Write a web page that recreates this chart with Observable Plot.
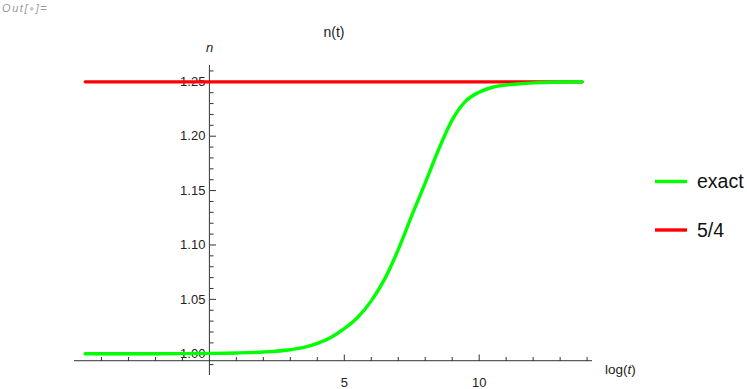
<!DOCTYPE html>
<html>
<head>
<meta charset="utf-8">
<script src="https://cdn.jsdelivr.net/npm/d3@7"></script>
<script src="https://cdn.jsdelivr.net/npm/@observablehq/plot@0.6"></script>
<style>
  html, body { margin: 0; padding: 0; background: #fff; }
  #wrap { position: relative; width: 747px; height: 389px; overflow: hidden; font-family: "Liberation Sans", Arial, sans-serif; }
  #chart { position: absolute; left: 0; top: 0; }
  #overlay { position: absolute; left: 0; top: 0; pointer-events: none; }
</style>
</head>
<body>
<div id="wrap">
  <div id="chart"></div>
  <svg id="overlay" width="747" height="389" font-family="Liberation Sans, Arial, sans-serif">
    <text x="2" y="12" font-size="11" font-style="italic" fill="#9a9a9a" letter-spacing="1.6">Out[<tspan fill="#c8c8c8" font-size="8" dy="-1">●</tspan><tspan dy="1">]=</tspan></text>
    <text x="334" y="37" font-size="14" text-anchor="middle" fill="#222">n(t)</text>
    <text x="209.5" y="52" font-size="13" font-style="italic" text-anchor="middle" fill="#222">n</text>
    <text x="605" y="374" font-size="13.5" fill="#222">log(<tspan font-style="italic">t</tspan>)</text>
    <g id="legend"></g>
  </svg>
</div>
<script>
// ---- data ----
const logT = [-4.605, -3, -2, -1, 0, 1, 2, 3, 3.5, 4, 4.5, 5, 5.5, 6, 6.5, 7, 7.5, 8, 8.5, 9, 9.5, 10, 10.5, 11, 11.5, 12, 13, 13.816];
const nExact = [1.0000, 1.0000, 1.0000, 1.0001, 1.0003, 1.0007, 1.0016, 1.0037, 1.0058, 1.0095, 1.0150, 1.0230, 1.0335, 1.0486, 1.0688, 1.0958, 1.1270, 1.1570, 1.1880, 1.2150, 1.2323, 1.2405, 1.2450, 1.2471, 1.2482, 1.2490, 1.2498, 1.2500];
const limitX = [-4.605, 13.816];
const limitN = 1.25;
const seriesNames = ["exact", "5/4"];
const seriesColors = ["#00ff00", "#ff0000"];

const xMajorTicks = [5, 10];
const xMinorTicks = [-4, -3, -2, -1, 1, 2, 3, 4, 6, 7, 8, 9, 11, 12, 13, 14];
const yMajorTicks = [1.00, 1.05, 1.10, 1.15, 1.20, 1.25];
const yMinorTicks = [0.99, 1.01, 1.02, 1.03, 1.04, 1.06, 1.07, 1.08, 1.09, 1.11, 1.12, 1.13, 1.14, 1.16, 1.17, 1.18, 1.19, 1.21, 1.22, 1.23, 1.24, 1.26];
const yTickLabels = ["1.00", "1.05", "1.10", "1.15", "1.20", "1.25"];
const xTickLabels = ["5", "10"];

const xDomain = [-5, 14.2];
const yDomain = [0.98, 1.265];
const axisOriginY = 0.9936;

const exactData = logT.map((x, i) => ({x, n: nExact[i]}));
const limitData = limitX.map(x => ({x, n: limitN}));

const axisColor = "#333";
const W = 747, H = 389, mL = 74, mR = 155, mT = 65, mB = 14;

const chart = Plot.plot({
  width: W, height: H,
  marginLeft: mL, marginRight: mR, marginTop: mT, marginBottom: mB,
  x: {domain: xDomain},
  y: {domain: yDomain},
  style: {background: "transparent", fontFamily: "Liberation Sans, Arial, sans-serif", fontSize: "13px", color: "#222", overflow: "visible"},
  marks: [
    Plot.ruleY([axisOriginY], {x1: () => xDomain[0], x2: () => xDomain[1], stroke: axisColor, strokeWidth: 1}),
    Plot.ruleX([0], {y1: () => yDomain[0], y2: () => yDomain[1], stroke: axisColor, strokeWidth: 1}),
    // x ticks pointing up from the axis line
    Plot.axisX(xMinorTicks, {anchor: "top", tickSize: 4, fill: "none", stroke: axisColor, label: null, dy: 295}),
    Plot.axisX(xMajorTicks, {anchor: "top", tickSize: 6.5, fill: "none", stroke: axisColor, label: null, dy: 295}),
    // y ticks pointing right from the y axis line at x = 0
    Plot.axisY(yMinorTicks, {anchor: "right", tickSize: 3.5, fill: "none", stroke: axisColor, label: null, dx: -383}),
    Plot.axisY(yMajorTicks, {anchor: "right", tickSize: 6, fill: "none", stroke: axisColor, label: null, dx: -383}),
    Plot.text(yMajorTicks, {x: () => 0, y: d => d, text: (d, i) => yTickLabels[i], textAnchor: "end", dx: -4, fill: "#222"}),
    Plot.text(xMajorTicks, {x: d => d, y: () => axisOriginY, text: (d, i) => xTickLabels[i], dy: 22, fill: "#222"}),
    Plot.line(limitData, {x: "x", y: "n", stroke: seriesColors[1], strokeWidth: 3.2}),
    Plot.line(exactData, {x: "x", y: "n", stroke: seriesColors[0], strokeWidth: 3.4, curve: "monotone-x"})
  ]
});
document.getElementById("chart").append(chart);

// legend
const legend = d3.select("#legend");
const legendY = [181.5, 230];
seriesNames.forEach((name, i) => {
  legend.append("line").attr("x1", 655).attr("x2", 687).attr("y1", legendY[i]).attr("y2", legendY[i])
    .attr("stroke", seriesColors[i]).attr("stroke-width", 3.4);
  legend.append("text").attr("x", 697).attr("y", legendY[i] + 6.5).attr("font-size", 19.5).attr("fill", "#111").text(name);
});
</script>
</body>
</html>
